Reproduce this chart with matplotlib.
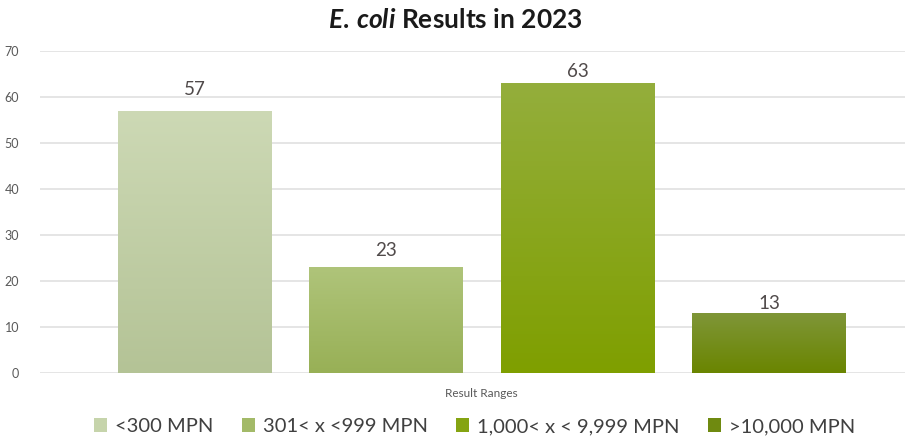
import matplotlib
matplotlib.use("Agg")
import matplotlib.pyplot as plt
import numpy as np
from matplotlib.colors import LinearSegmentedColormap
from matplotlib.patches import Patch

categories = ["<300 MPN", "301< x <999 MPN", "1,000< x < 9,999 MPN", ">10,000 MPN"]
values = [57, 23, 63, 13]
top_colors = ["#cdd9b5", "#afc47a", "#94ae3c", "#7f9638"]
bottom_colors = ["#b4c396", "#98b056", "#7f9f00", "#6a8500"]
legend_colors = ["#c6d4ab", "#a3ba68", "#85a412", "#6f8a10"]
label_offsets = [4.6, 3.7, 2.6, 2.2]
yticks = [0, 10, 20, 30, 40, 50, 60, 70]

plt.rcParams['font.family'] = ['Lato', 'DejaVu Sans']
plt.rcParams['mathtext.fontset'] = 'custom'
plt.rcParams['mathtext.it'] = 'Lato:italic:bold'
plt.rcParams['mathtext.rm'] = 'Lato:bold'
fig = plt.figure(figsize=(9.11, 4.40), dpi=100)
ax = fig.add_axes([0.0439, 0.152, 0.9495, 0.732])

width = 0.80
xs = np.arange(len(values))
bars = ax.bar(xs, values, width=width, color=bottom_colors, edgecolor='none', zorder=2)
for b, tc, bc in zip(bars, top_colors, bottom_colors):
    cmap = LinearSegmentedColormap.from_list("g", [bc, tc])
    grad = np.linspace(0, 1, 256).reshape(-1, 1)
    x0, y0 = b.get_x(), b.get_y()
    im = ax.imshow(grad, cmap=cmap, origin='lower', aspect='auto',
                   extent=[x0, x0 + b.get_width(), y0, y0 + b.get_height()], zorder=3)
    im.set_clip_path(b)

for x, v, off in zip(xs, values, label_offsets):
    ax.text(x, v + off, str(v), ha='center', va='center', fontsize=13.5, color='#504a4a',
            zorder=4, clip_on=False)

ax.set_xlim(-0.807, 3.71)
ax.set_ylim(0, 70)
ax.set_yticks(yticks)
ax.grid(axis='y', color='#e0e0e0', linewidth=1.2, zorder=0)
ax.set_axisbelow(True)
for s in ax.spines.values():
    s.set_visible(False)
ax.tick_params(axis='y', length=0, labelsize=9, labelcolor='#595959', pad=15)
ax.set_xticks([1.5])
ax.set_xticklabels(["Result Ranges"], fontsize=8.5, color='#595959')
ax.tick_params(axis='x', length=0, pad=11)

fig.text(0.50, 0.955, r"$\mathit{E.\,coli}$ Results in 2023", ha='center', va='center',
         fontsize=19, fontweight='bold', color='#1a1a1a')

handles = [Patch(facecolor=c, edgecolor='none') for c in legend_colors]
fig.legend(handles, categories, loc='lower center', bbox_to_anchor=(0.521, -0.03), ncol=4,
           frameon=False, fontsize=14.5, handlelength=0.65, handleheight=0.65,
           handletextpad=0.4, columnspacing=1.4, labelcolor='#404040')

fig.savefig("out.png", dpi=100)
